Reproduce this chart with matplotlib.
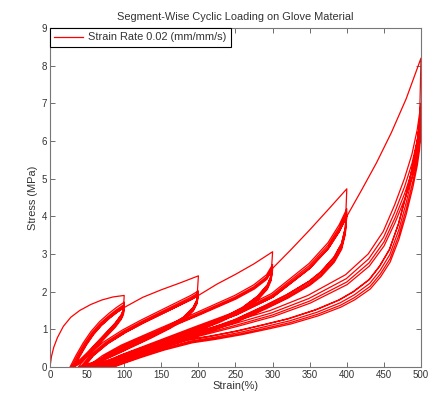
import numpy as np
import matplotlib
matplotlib.use("Agg")
import matplotlib.pyplot as plt

plt.rcParams['font.family'] = ['Liberation Sans', 'DejaVu Sans']

# ---------------- data ----------------
max_strain = [100, 200, 300, 400, 500]              # strain (%) of each segment
peak_stress = [[1.90, 1.72, 1.66, 1.62, 1.58],       # MPa, one per cycle
               [2.42, 2.02, 1.97, 1.93, 1.90],
               [3.06, 2.72, 2.66, 2.62, 2.58],
               [4.73, 4.20, 4.12, 4.05, 4.00],
               [8.20, 7.00, 6.70, 6.45, 6.25]]
residual_strain = [[27, 29, 31, 32, 33],             # strain (%) at zero stress after each unload
                   [38, 41, 43, 45, 46],
                   [50, 53, 55, 57, 58],
                   [62, 65, 67, 69, 70],
                   [75, 79, 82, 84, 86]]

# first (virgin) loading of each segment
virgin_strain = [[0, 2, 5, 10, 18, 28, 40, 55, 70, 85, 100],
                 [100, 125, 150, 175, 200],
                 [200, 225, 250, 275, 300],
                 [300, 325, 350, 375, 400],
                 [400, 420, 440, 460, 480, 500]]
virgin_stress = [[0, 0.28, 0.52, 0.78, 1.08, 1.32, 1.50, 1.66, 1.78, 1.86, 1.90],
                 [1.58, 1.85, 2.05, 2.23, 2.42],
                 [1.90, 2.20, 2.46, 2.74, 3.06],
                 [2.62, 3.12, 3.64, 4.18, 4.73],
                 [4.00, 4.70, 5.42, 6.22, 7.12, 8.20]]

# typical reloading branch of each segment
reload_strain = [[30, 38, 47, 57, 68, 80, 90, 100],
                 [42, 55, 75, 100, 125, 150, 175, 190, 200],
                 [55, 75, 100, 150, 200, 250, 275, 292, 300],
                 [67, 100, 150, 200, 250, 300, 350, 375, 390, 400],
                 [82, 110, 150, 200, 250, 300, 350, 400, 430, 450, 465, 478, 488, 495, 500]]
reload_stress = [[0, 0.32, 0.64, 0.94, 1.20, 1.42, 1.58, 1.72],
                 [0, 0.32, 0.66, 0.98, 1.25, 1.50, 1.75, 1.90, 2.02],
                 [0, 0.30, 0.58, 1.02, 1.45, 1.90, 2.18, 2.45, 2.72],
                 [0, 0.32, 0.70, 1.08, 1.45, 1.95, 2.75, 3.30, 3.78, 4.20],
                 [0, 0.26, 0.58, 0.92, 1.20, 1.50, 1.90, 2.45, 3.00, 3.60, 4.30, 5.00, 5.65, 6.30, 7.00]]

# typical unloading branch of each segment (after the drop at the peak)
unload_strain = [[99, 96, 88, 76, 64, 52, 41, 30],
                 [198, 193, 180, 160, 135, 110, 85, 62, 42],
                 [298, 293, 280, 260, 230, 200, 160, 120, 85, 55],
                 [398, 393, 383, 365, 350, 320, 290, 250, 200, 150, 105, 67],
                 [498, 495, 489, 480, 470, 458, 445, 431, 410, 391, 360, 323, 290, 256, 220, 189, 150, 120, 100, 82]]
unload_stress = [[1.52, 1.38, 1.16, 0.90, 0.64, 0.38, 0.16, 0],
                 [1.78, 1.58, 1.32, 1.08, 0.82, 0.58, 0.34, 0.13, 0],
                 [2.42, 2.18, 1.88, 1.58, 1.27, 1.02, 0.74, 0.46, 0.20, 0],
                 [3.70, 3.28, 2.92, 2.52, 2.28, 1.92, 1.62, 1.25, 0.90, 0.58, 0.26, 0],
                 [6.45, 6.00, 5.35, 4.55, 3.80, 3.12, 2.68, 2.32, 2.00, 1.78, 1.52, 1.28, 1.12, 0.96, 0.82, 0.72, 0.50, 0.29, 0.14, 0]]

legend_label = 'Strain Rate 0.02 (mm/mm/s)'

# ---------------- build the continuous test path ----------------
def remap(strain, r_from, r_to, emax):
    s = np.asarray(strain, float)
    return r_to + (s - r_from) * (emax - r_to) / (emax - r_from)

path_x, path_y = [], []

def add(x, y):
    path_x.extend(list(x))
    path_y.extend(list(y))

for k in range(5):
    emax = max_strain[k]
    # first loading
    if k > 0:
        pe = max_strain[k - 1]
        rs, rv = reload_strain[k - 1], reload_stress[k - 1]
        f = virgin_stress[k][0] / rv[-1]
        add(remap(rs, rs[0], residual_strain[k - 1][-1], pe), np.array(rv) * f)
        add(virgin_strain[k][1:], virgin_stress[k][1:])
    else:
        add(virgin_strain[k], virgin_stress[k])
    us, uv = unload_strain[k], unload_stress[k]
    rs, rv = reload_strain[k], reload_stress[k]
    r0 = rs[0]
    # first unloading
    add(remap(us, r0, residual_strain[k][0], emax), np.array(uv))
    for i in range(1, 5):
        f = peak_stress[k][i] / rv[-1]
        add(remap(rs, r0, residual_strain[k][i - 1], emax), np.array(rv) * f)
        add(remap(us, r0, residual_strain[k][i], emax), np.array(uv) * f)

# ---------------- draw ----------------
fig = plt.figure(figsize=(4.31, 3.95), dpi=100)
ax = fig.add_axes([50 / 431, 28 / 395, 371 / 431, 339 / 395])
ax.plot(path_x, path_y, color='#ff0000', lw=0.9, label=legend_label)

ax.set_xlim(0, 500)
ax.set_ylim(0, 9)
ax.set_xticks(np.arange(0, 501, 50))
ax.set_yticks(np.arange(0, 10, 1))
tc = '#333333'
ax.tick_params(direction='in', length=3.5, width=0.6, top=True, right=True,
               labelsize=7, colors='#555555', labelcolor=tc, pad=2)
for s in ax.spines.values():
    s.set_color('#777777')
    s.set_linewidth(0.8)

ax.set_title('Segment-Wise Cyclic Loading on Glove Material', fontsize=7.9, color=tc, pad=6)
ax.set_xlabel('Strain(%)', fontsize=7.9, color=tc, labelpad=1)
ax.set_ylabel('Stress (MPa)', fontsize=7.9, color=tc, labelpad=3)

leg = ax.legend(loc='upper left', borderaxespad=0, fontsize=7.9, fancybox=False,
                framealpha=1, edgecolor='black', handlelength=2.6, handletextpad=0.45,
                borderpad=0.4)
leg.get_frame().set_linewidth(0.8)
for t in leg.get_texts():
    t.set_color(tc)

fig.savefig('out.png', dpi=100)
